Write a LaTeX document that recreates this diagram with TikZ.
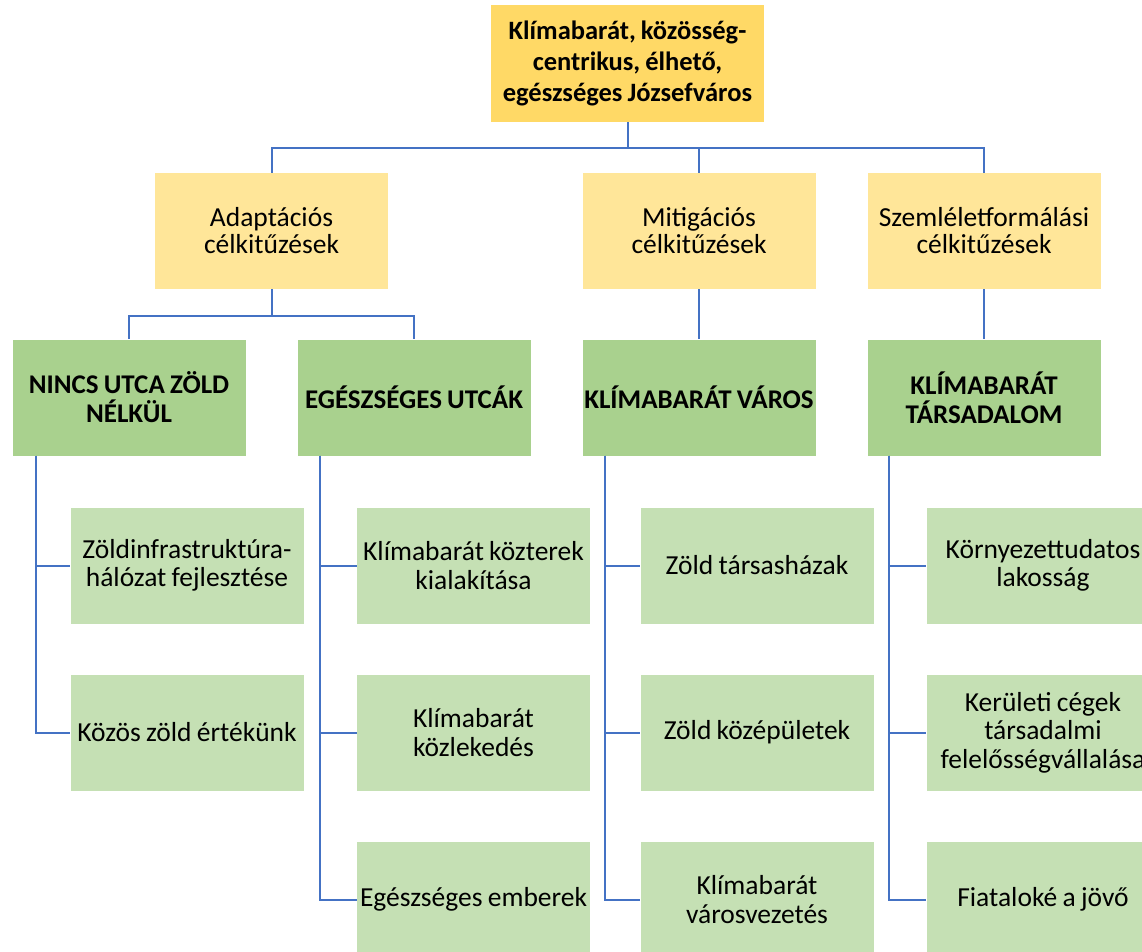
\documentclass[tikz,border=0pt]{standalone}
\usepackage{fontspec}
\setmainfont{Carlito}[WordSpace={0.85,0,0}]
\definecolor{goal}{HTML}{FFD966}
\definecolor{aim}{HTML}{FFE699}
\definecolor{prog}{HTML}{A9D18E}
\definecolor{meas}{HTML}{C5E0B4}
\definecolor{link}{HTML}{4472C4}
\tikzset{
  box/.style={rectangle, inner sep=0pt, align=center, minimum width=233pt, minimum height=116pt},
  goalbox/.style={box, fill=goal, minimum width=273pt, minimum height=117pt, font=\fontsize{26.5}{31}\selectfont\bfseries},
  aimbox/.style={box, fill=aim, font=\fontsize{27.5}{27}\selectfont},
  progbox/.style={box, fill=prog, font=\fontsize{27}{29}\selectfont\bfseries},
  measbox/.style={box, fill=meas, font=\fontsize{27.5}{28.5}\selectfont},
  wire/.style={draw=link, line width=2pt}
}
\begin{document}
\begin{tikzpicture}[x=1pt,y=-1pt]
            \useasboundingbox (0,0) rectangle (1142,952);
            \node[goalbox] (goal) at (627.5,63.5) {Klímabarát, közösség-\\centrikus, élhető,\\egészséges Józsefváros};
            \node[aimbox] (adapt) at (271.5,231) {Adaptációs\\célkitűzések};
            \node[aimbox] (mitig) at (699,231) {Mitigációs\\célkitűzések};
            \node[aimbox] (szeml) at (984,231) {Szemléletformálási\\célkitűzések};
            \node[progbox] (nincs) at (129,397.5) {NINCS UTCA ZÖLD\\NÉLKÜL};
            \node[progbox] (utcak) at (414,397.5) {EGÉSZSÉGES UTCÁK};
            \node[progbox] (varos) at (699,397.5) {KLÍMABARÁT VÁROS};
            \node[progbox] (tars) at (984,397.5) {KLÍMABARÁT\\TÁRSADALOM};
            \node[measbox] (zi) at (187,565.5) {Zöldinfrastruktúra-\\hálózat fejlesztése};
            \node[measbox] (ze) at (187,732.5) {Közös zöld értékünk};
            \node[measbox] (kk) at (473.5,565.5) {Klímabarát közterek\\kialakítása};
            \node[measbox] (kl) at (473.5,732.5) {Klímabarát\\közlekedés};
            \node[measbox] (ee) at (473.5,899.5) {Egészséges emberek};
            \node[measbox] (zt) at (757,565.5) {Zöld társasházak};
            \node[measbox] (zk) at (757,732.5) {Zöld középületek};
            \node[measbox] (kv) at (757,899.5) {Klímabarát\\városvezetés};
            \node[measbox] (kt) at (1043,565.5) {Környezettudatos\\lakosság};
            \node[measbox] (kc) at (1043,732.5) {Kerületi cégek\\társadalmi\\felelősségvállalása};
            \node[measbox] (fj) at (1043,899.5) {Fiataloké a jövő};
            \draw[wire] (goal.south) -- ++(0,26) -| (adapt.north);
            \draw[wire] (goal.south) ++(0,26) -| (mitig.north);
            \draw[wire] (goal.south) ++(0,26) -| (szeml.north);
            \draw[wire] (adapt.south) -- ++(0,27) -| (nincs.north);
            \draw[wire] (adapt.south) ++(0,27) -| (utcak.north);
            \draw[wire] (mitig.south) -- (varos.north);
            \draw[wire] (szeml.south) -- (tars.north);
            \draw[wire] ([xshift=24pt]nincs.south west) |- (zi.west);
            \draw[wire] ([xshift=24pt]nincs.south west) |- (ze.west);
            \draw[wire] ([xshift=23pt]utcak.south west) |- (kk.west);
            \draw[wire] ([xshift=23pt]utcak.south west) |- (kl.west);
            \draw[wire] ([xshift=23pt]utcak.south west) |- (ee.west);
            \draw[wire] ([xshift=23pt]varos.south west) |- (zt.west);
            \draw[wire] ([xshift=23pt]varos.south west) |- (zk.west);
            \draw[wire] ([xshift=23pt]varos.south west) |- (kv.west);
            \draw[wire] ([xshift=22pt]tars.south west) |- (kt.west);
            \draw[wire] ([xshift=22pt]tars.south west) |- (kc.west);
            \draw[wire] ([xshift=22pt]tars.south west) |- (fj.west);
        \end{tikzpicture}
\end{document}
